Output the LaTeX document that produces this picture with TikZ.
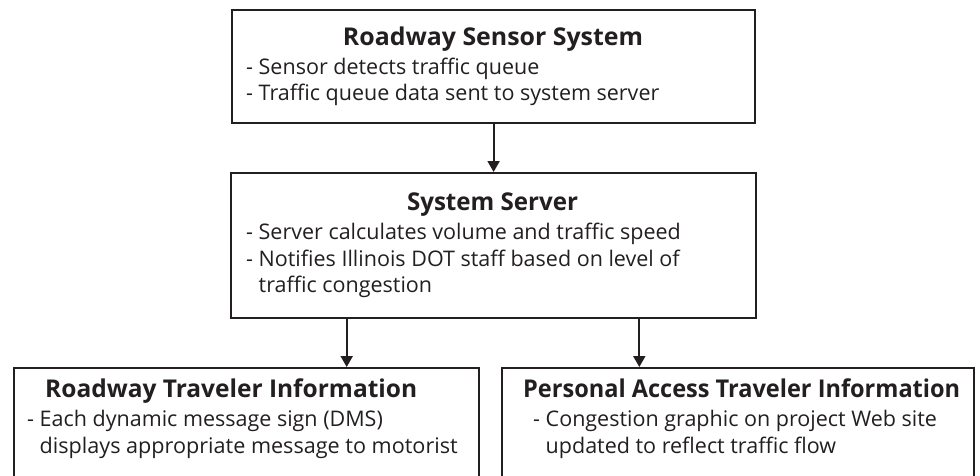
\documentclass[tikz,border=0pt]{standalone}
\usepackage{fontspec}
\setmainfont{Open Sans}
\usetikzlibrary{arrows.meta,calc}
\definecolor{ink}{HTML}{231F20}
% text set to a given width, keeping its natural height
\newcommand{\headw}[2]{\resizebox{#1}{\height}{#2}}
\begin{document}
\begin{tikzpicture}[x=1pt,y=1pt,
  box/.style={draw=ink,line width=2.2pt,rectangle,inner sep=0pt,anchor=north west},
  head/.style={font=\fontsize{24.5}{28}\selectfont\bfseries,text=ink,inner sep=0pt},
  body/.style={font=\fontsize{21.5}{26.5}\selectfont,text=ink,inner sep=0pt,anchor=base west},
  flow/.style={draw=ink,line width=2pt,-{Triangle[width=12pt,length=11pt]}}]
\useasboundingbox (0,0) rectangle (980,-475);
\clip (0,0) rectangle (980,-475);
\fill[white] (0,0) rectangle (980,-475);

% boxes (the two lower ones run past the bottom edge)
\node[box,minimum width=523pt,minimum height=113pt] (sensor) at (231,-9) {};
\node[box,minimum width=525pt,minimum height=145pt] (server) at (230,-172) {};
\node[box,minimum width=465pt,minimum height=140pt] (roadway) at (12.7,-367) {};
\node[box,minimum width=472.3pt,minimum height=140pt] (personal) at (500.7,-367) {};

% Roadway Sensor System
\node[head,anchor=base] (sensorT) at (493,-45) {\headw{300pt}{Roadway Sensor System}};
\node[body] (sensor1) at (246,-74) {- Sensor detects traffic queue};
\node[body] (sensor2) at (246,-100) {- Traffic queue data sent to system server};

% System Server
\node[head,anchor=base] (serverT) at (492.5,-210) {\headw{171pt}{System Server}};
\node[body] (server1) at (246,-239.5) {- Server calculates volume and traffic speed};
\node[body] (server2) at (246,-266) {- Notifies Illinois DOT staff based on level of};
\node[body] (server3) at (246,-292) {\phantom{- }traffic congestion};

% Roadway Traveler Information
\node[head,anchor=base west] (roadwayT) at (45,-397) {\headw{372pt}{Roadway Traveler Information}};
\node[body] (roadway1) at (27,-426) {- Each dynamic message sign (DMS)};
\node[body] (roadway2) at (27,-453) {\phantom{- }\headw{418pt}{displays appropriate message to motorist}};

% Personal Access Traveler Information
\node[head,anchor=base west] (personalT) at (523,-397) {\headw{437pt}{Personal Access Traveler Information}};
\node[body] (personal1) at (533,-426) {- Congestion graphic on project Web site};
\node[body] (personal2) at (533,-453) {\phantom{- }updated to reflect traffic flow};

% connectors
\coordinate (splitL) at (346.7,0);
\coordinate (splitR) at (639.3,0);
\draw[flow] (sensor.south) -- (server.north);
\draw[flow] (server.south -| splitL) -- (roadway.north -| splitL);
\draw[flow] (server.south -| splitR) -- (personal.north -| splitR);
\end{tikzpicture}
\end{document}
